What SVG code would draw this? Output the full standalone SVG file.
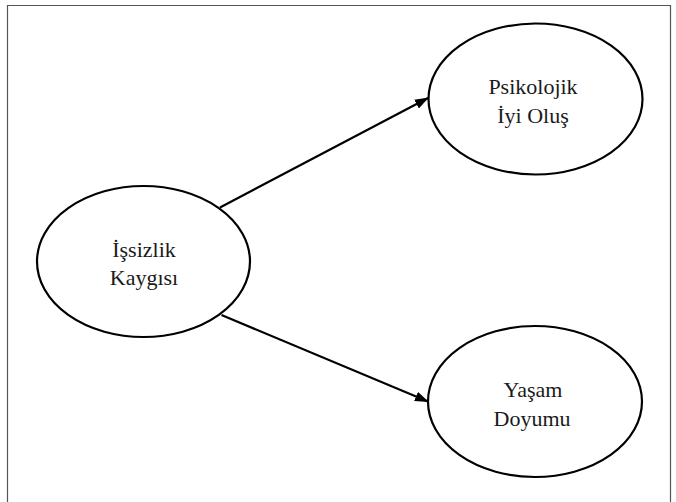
<svg xmlns="http://www.w3.org/2000/svg" width="676" height="502" viewBox="0 0 676 502">
  <style>
    .node { fill: #ffffff; stroke: #000000; stroke-width: 2.2; }
    .label { font-family: "Liberation Serif", "Times New Roman", serif; font-size: 22px; fill: #1a1a1a; text-anchor: middle; }
    .edge { stroke: #000000; stroke-width: 2.2; fill: none; marker-end: url(#arrow); }
    .frame { fill: none; stroke: #555555; stroke-width: 1.2; }
  </style>
  <defs>
    <marker id="arrow" viewBox="0 0 14 10" refX="13" refY="5" markerWidth="14" markerHeight="10" markerUnits="userSpaceOnUse" orient="auto">
      <path d="M0,0 L14,5 L0,10 Z" fill="#000000"/>
    </marker>
  </defs>
  <rect width="676" height="502" fill="#ffffff"/>
  <path class="frame" d="M7.5,502 L7.5,5.5 L670.5,5.5 L670.5,502"/>
  <g id="connectors">
    <line class="edge" x1="220" y1="207.5" x2="428" y2="98"/>
    <line class="edge" x1="221.5" y1="315" x2="428" y2="401.5"/>
  </g>
  <g id="node-issizlik">
    <ellipse class="node" cx="143.5" cy="261.5" rx="106.5" ry="75.5"/>
    <text class="label" x="144" y="257">İşsizlik</text>
    <text class="label" x="144" y="285">Kaygısı</text>
  </g>
  <g id="node-psikolojik">
    <ellipse class="node" cx="535.5" cy="99" rx="107" ry="75.5"/>
    <text class="label" x="533" y="94">Psikolojik</text>
    <text class="label" x="533" y="122.5">İyi Oluş</text>
  </g>
  <g id="node-yasam">
    <ellipse class="node" cx="535" cy="401.5" rx="107" ry="75.5"/>
    <text class="label" x="533" y="397">Yaşam</text>
    <text class="label" x="532" y="426">Doyumu</text>
  </g>
</svg>
